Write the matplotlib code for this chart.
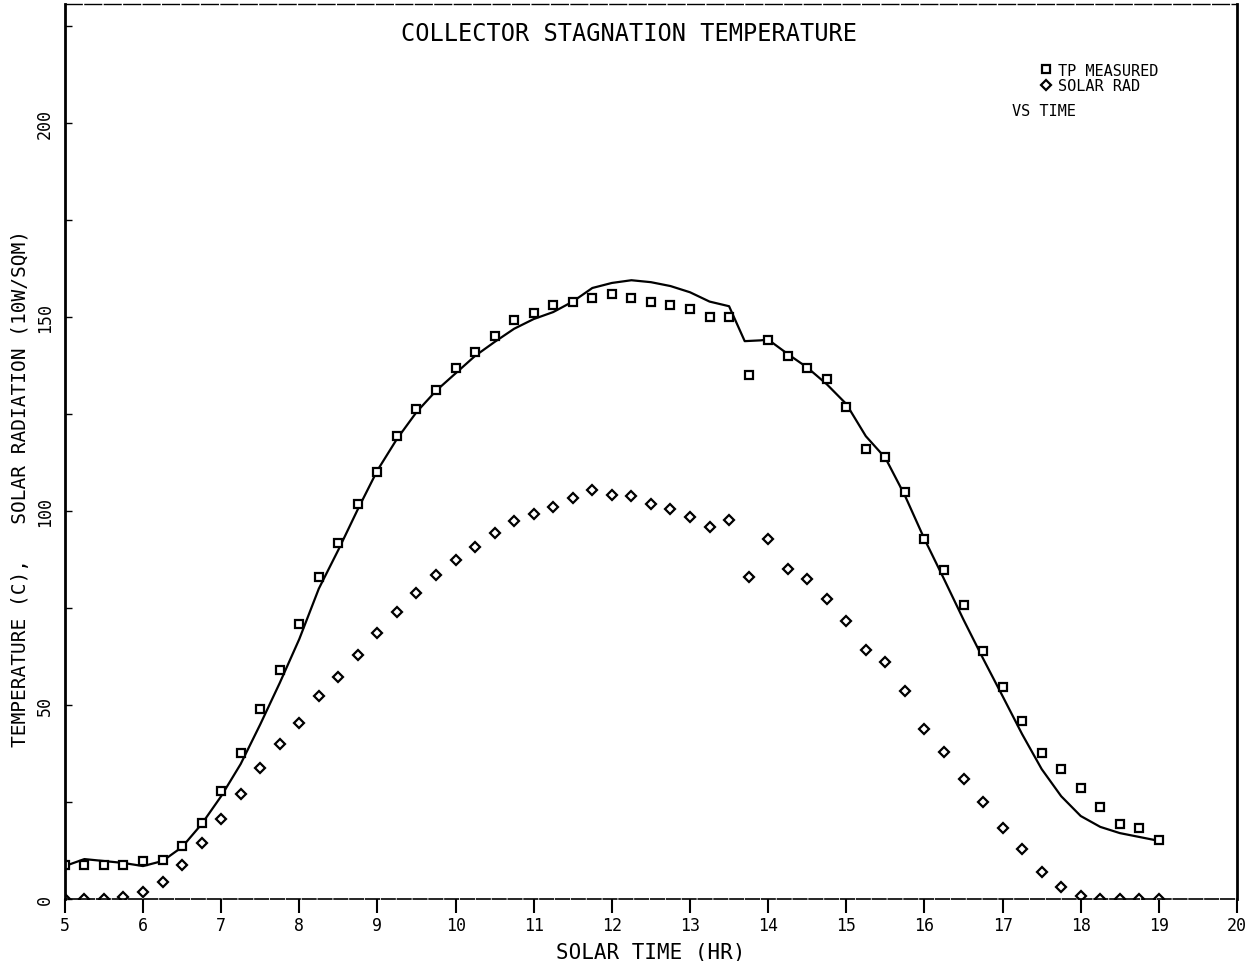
import numpy as np
from matplotlib import pyplot as plt

# solar time (hr), every quarter hour
hours = [5.0 + 0.25 * i for i in range(57)]

# TP measured (C)
tp_measured = [8.8, 8.8, 8.8, 8.8, 9.8, 10.0, 13.7, 19.6, 27.8, 37.6,
               49.0, 59.0, 70.9, 83.0, 91.8, 101.8, 110.0, 119.3, 126.3, 131.2,
               137.0, 141.0, 145.0, 149.2, 151.0, 153.0, 154.0, 155.0, 156.0, 155.0,
               154.0, 153.0, 152.0, 150.0, 150.0, 135.0, 144.0, 140.0, 137.0, 134.0,
               126.8, 116.0, 114.0, 105.0, 92.8, 84.8, 75.8, 64.0, 54.6, 45.9,
               37.6, 33.5, 28.6, 23.7, 19.3, 18.3, 15.2]

# solar radiation (10 W/sqm)
solar_rad = [0.0, 0.0, 0.0, 0.4, 1.8, 4.4, 8.8, 14.4, 20.6, 27.0,
             33.8, 40.0, 45.4, 52.3, 57.2, 62.9, 68.6, 74.0, 78.9, 83.5,
             87.4, 90.7, 94.3, 97.4, 99.2, 101.0, 103.4, 105.4, 104.1, 103.9,
             101.8, 100.5, 98.5, 95.9, 97.7, 83.0, 92.8, 85.0, 82.5, 77.3,
             71.6, 64.2, 61.0, 53.6, 43.8, 37.9, 31.0, 25.0, 18.3, 12.9,
             7.0, 3.1, 0.8, 0.0, 0.0, 0.0, 0.0]

# predicted stagnation temperature (solid curve)
line_t = [5.0, 5.25, 5.5, 5.75, 6.0, 6.25, 6.5, 6.75, 7.0, 7.25, 7.5, 7.75,
          8.0, 8.25, 8.5, 8.75, 9.0, 9.25, 9.5, 9.75, 10.0, 10.25, 10.5, 10.75,
          11.0, 11.25, 11.5, 11.75, 12.0, 12.25, 12.5, 12.75, 13.0, 13.25, 13.5,
          13.7, 13.9, 14.0, 14.25, 14.5, 14.75, 15.0, 15.25, 15.5, 15.75, 16.0,
          16.25, 16.5, 16.75, 17.0, 17.25, 17.5, 17.75, 18.0, 18.25, 18.5, 18.75, 19.0]
line_temp = [8.5, 10.3, 9.8, 9.3, 8.5, 9.8, 13.4, 19.3, 26.5, 34.8, 45.0, 55.7,
             67.0, 80.0, 90.0, 100.5, 110.5, 118.6, 125.5, 131.0, 135.5, 140.0, 143.6, 147.0,
             149.5, 151.3, 154.0, 157.5, 158.8, 159.5, 159.0, 158.0, 156.4, 154.0, 152.8,
             143.8, 144.0, 144.2, 140.5, 137.0, 132.7, 127.6, 119.3, 113.7, 104.0, 92.8,
             82.5, 72.0, 62.0, 52.3, 42.5, 33.5, 26.5, 21.4, 18.6, 17.0, 16.0, 15.0]

mono = 'DejaVu Sans Mono'

fig = plt.figure(figsize=(12.47, 9.62), dpi=100)
ax = fig.add_axes([0.052, 0.0644, 0.94, 0.9304])

ax.plot(line_t, line_temp, color='black', lw=1.6)
ax.plot(hours, tp_measured, 's', ms=6, mfc='white', mec='black', mew=1.6,
        label='TP MEASURED')
ax.plot(hours, solar_rad, 'D', ms=5, mfc='white', mec='black', mew=1.6,
        label='SOLAR RAD')

ax.set_xlim(5, 20)
ax.set_ylim(0, 230.7)
ax.set_xticks(np.arange(5, 21, 1))
ax.set_yticks([0, 50, 100, 150, 200])
ax.set_yticks(np.arange(0, 230, 25), minor=True)
ax.tick_params(axis='x', direction='out', length=10, width=1.5, labelsize=12, pad=2)
ax.tick_params(axis='y', which='both', direction='in', length=5, width=1, labelsize=12,
               labelrotation=90, pad=8)
for lab in ax.get_xticklabels() + ax.get_yticklabels():
    lab.set_family(mono)
for lab in ax.get_yticklabels():
    lab.set_va('center')

ax.spines['left'].set_linewidth(2)
ax.spines['right'].set_linewidth(2)
ax.spines['bottom'].set_linewidth(1.2)
ax.spines['bottom'].set_linestyle((0, (8, 1.5)))
ax.spines['top'].set_linewidth(1)
ax.spines['top'].set_linestyle((0, (12, 2)))

ax.set_xlabel('SOLAR TIME (HR)', family=mono, fontsize=15, labelpad=6)
ax.set_ylabel('TEMPERATURE (C),   SOLAR RADIATION (10W/SQM)', family=mono,
              fontsize=14, labelpad=6)
ax.yaxis.set_label_coords(-0.03, 0.46)
ax.text(0.481, 0.968, 'COLLECTOR STAGNATION TEMPERATURE', transform=ax.transAxes,
        family=mono, fontsize=17, ha='center', va='center')

ax.legend(loc='upper left', bbox_to_anchor=(0.825, 0.943), frameon=False,
          prop={'family': mono, 'size': 11}, handlelength=0.8, handletextpad=0.4,
          labelspacing=0.05, borderpad=0)
ax.text(0.808, 0.881, 'VS TIME', transform=ax.transAxes, family=mono,
        fontsize=11, ha='left', va='center')

fig.savefig('out.png', dpi=100)
